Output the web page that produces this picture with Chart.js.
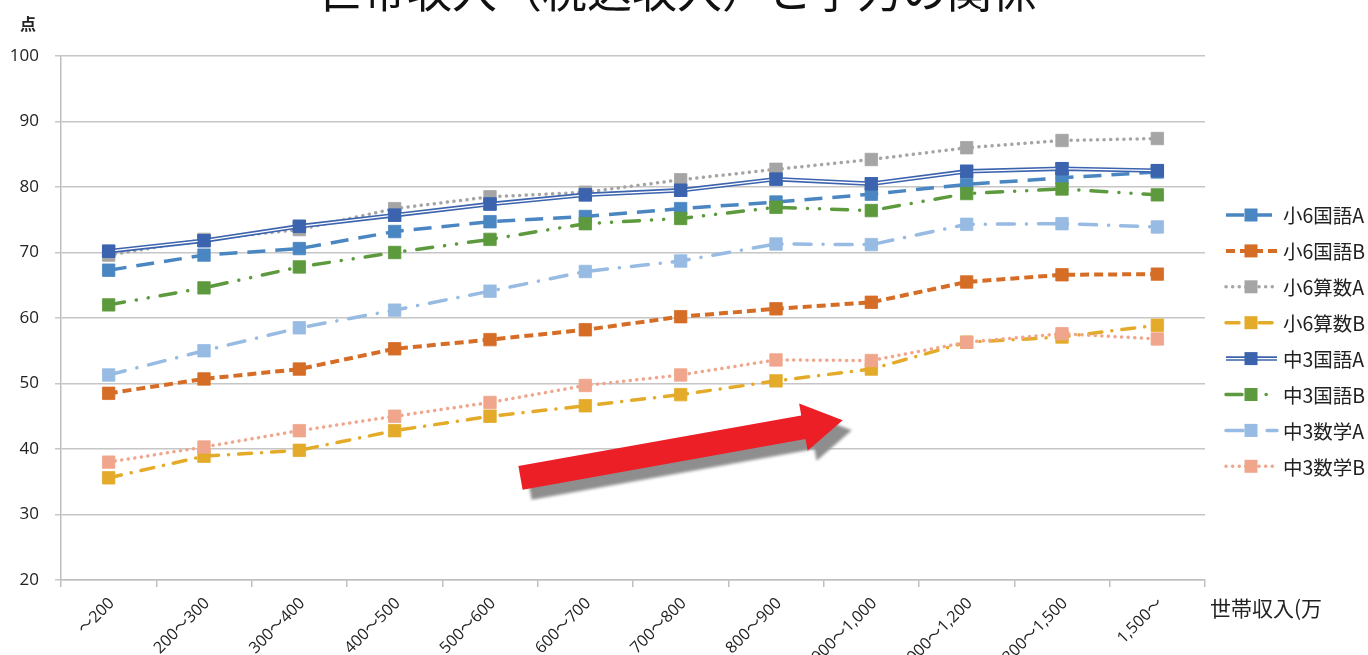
<!DOCTYPE html>
<html lang="ja">
<head>
<meta charset="utf-8">
<script src="https://cdn.jsdelivr.net/npm/chart.js@4"></script>
<style>
  html, body { margin: 0; padding: 0; background: #fff; overflow: hidden; }
  #wrap { position: relative; width: 1368px; height: 655px; overflow: hidden; }
  #title {
    position: absolute; left: 272px; top: -34px; white-space: nowrap;
    font: 45px/45px "Noto Sans CJK JP", sans-serif; color: #111;
  }
  #yunit { position: absolute; left: 20px; top: 11px; font: bold 16px "Noto Sans CJK JP", sans-serif; color: #222; }
  #xunit { position: absolute; left: 1210px; top: 592px; font: 21px "Noto Sans CJK JP", sans-serif; color: #222; white-space: nowrap; }
</style>
</head>
<body>
<div id="wrap">
  <canvas id="chart" width="1368" height="655"></canvas>
  <div id="title">・世帯収入（税込収入）と学力の関係</div>
  <div id="yunit">点</div>
  <div id="xunit">世帯収入(万</div>
</div>
<script>
// income brackets (万円)
const categories = ["～200", "200～300", "300～400", "400～500", "500～600", "600～700",
  "700～800", "800～900", "900～1,000", "1,000～1,200", "1,200～1,500", "1,500～"];

const seriesNames = ["小6国語A", "小6国語B", "小6算数A", "小6算数B", "中3国語A", "中3国語B", "中3数学A", "中3数学B"];

const sho6KokugoA = [67.3, 69.6, 70.6, 73.2, 74.7, 75.5, 76.7, 77.7, 78.9, 80.4, 81.4, 82.3];
const sho6KokugoB = [48.5, 50.7, 52.2, 55.3, 56.7, 58.2, 60.2, 61.4, 62.4, 65.5, 66.6, 66.7];
const sho6SansuA = [69.6, 72.0, 73.5, 76.7, 78.5, 79.2, 81.1, 82.7, 84.2, 86.0, 87.1, 87.4];
const sho6SansuB = [35.6, 38.9, 39.8, 42.8, 45.0, 46.6, 48.3, 50.4, 52.2, 56.3, 57.1, 58.9];
const chu3KokugoA = [70.2, 71.8, 74.0, 75.7, 77.4, 78.8, 79.5, 81.2, 80.5, 82.4, 82.8, 82.5];
const chu3KokugoB = [62.0, 64.6, 67.8, 70.0, 72.0, 74.4, 75.2, 76.9, 76.4, 79.0, 79.7, 78.8];
const chu3SugakuA = [51.3, 55.0, 58.5, 61.2, 64.1, 67.1, 68.7, 71.3, 71.2, 74.3, 74.4, 73.9];
const chu3SugakuB = [38.0, 40.3, 42.8, 45.0, 47.1, 49.7, 51.3, 53.6, 53.5, 56.3, 57.6, 56.8];

const yTicks = [20, 30, 40, 50, 60, 70, 80, 90, 100];

// arrow annotation, in (category index, score) units
const arrowFrom = [4.32, 35.6];
const arrowTo = [7.7, 44.4];

const allValues = [sho6KokugoA, sho6KokugoB, sho6SansuA, sho6SansuB, chu3KokugoA, chu3KokugoB, chu3SugakuA, chu3SugakuB];
const styles = [
  { color: "#4a86c1", dash: [18, 10], width: 3.5, cap: "butt" },
  { color: "#d56d27", dash: [9, 5], width: 4, cap: "butt" },
  { color: "#a5a5a5", dash: [0.1, 6.5], width: 3.5, cap: "round" },
  { color: "#e3ab29", dash: [13, 10, 0.1, 10], width: 3.5, cap: "round" },
  { color: "#3b63ae", dash: [], width: 4.5, cap: "butt", double: true },
  { color: "#5d9a3e", dash: [16, 12, 0.1, 12, 0.1, 12], width: 3.5, cap: "round" },
  { color: "#97bbe2", dash: [17, 12, 0.1, 12], width: 3.5, cap: "round" },
  { color: "#f0a68c", dash: [0.1, 6.5], width: 3.5, cap: "round" },
];

const datasets = allValues.map((vals, i) => ({
  label: seriesNames[i],
  data: vals,
  borderColor: styles[i].color,
  backgroundColor: styles[i].color,
  borderWidth: styles[i].width,
  borderDash: styles[i].dash,
  borderCapStyle: styles[i].cap,
  pointStyle: "rect",
  pointRadius: 8.8,
  pointBorderWidth: 0.8,
  pointBorderColor: styles[i].color,
  pointBackgroundColor: styles[i].color,
  tension: 0,
  order: allValues.length - i,
}));

function drawSquare(ctx, x, y, color) {
  ctx.fillStyle = color;
  ctx.fillRect(x - 6.5, y - 6.5, 13, 13);
}

const doubleLine = {
  id: "doubleLine",
  afterDatasetDraw(chart, args) {
    if (!styles[args.index].double) return;
    const ctx = chart.ctx;
    const pts = args.meta.data;
    ctx.save();
    ctx.strokeStyle = "#fff";
    ctx.lineWidth = 1.3;
    ctx.beginPath();
    pts.forEach((p, j) => (j ? ctx.lineTo(p.x, p.y) : ctx.moveTo(p.x, p.y)));
    ctx.stroke();
    pts.forEach((p) => drawSquare(ctx, p.x, p.y, styles[args.index].color));
    ctx.restore();
  },
};

const arrow = {
  id: "arrow",
  beforeDatasetsDraw(chart) {
    const { x, y } = chart.scales;
    const p0 = [x.getPixelForValue(arrowFrom[0]), y.getPixelForValue(arrowFrom[1])];
    const p1 = [x.getPixelForValue(arrowTo[0]), y.getPixelForValue(arrowTo[1])];
    const len = Math.hypot(p1[0] - p0[0], p1[1] - p0[1]);
    const u = [(p1[0] - p0[0]) / len, (p1[1] - p0[1]) / len];
    const n = [-u[1], u[0]];
    const bw = 12, hw = 24, hl = 40;
    const hb = [p1[0] - u[0] * hl, p1[1] - u[1] * hl];
    const pt = (b, k) => [b[0] + n[0] * k, b[1] + n[1] * k];
    const poly = [pt(p0, bw), pt(hb, bw), pt(hb, hw), p1, pt(hb, -hw), pt(hb, -bw), pt(p0, -bw)];
    const ctx = chart.ctx;
    const fill = (dx, dy, color) => {
      ctx.beginPath();
      poly.forEach((p, j) => (j ? ctx.lineTo(p[0] + dx, p[1] + dy) : ctx.moveTo(p[0] + dx, p[1] + dy)));
      ctx.closePath();
      ctx.fillStyle = color;
      ctx.fill();
    };
    ctx.save();
    ctx.filter = "blur(1.5px)";
    fill(9, 10, "#8e8e8e");
    ctx.filter = "none";
    fill(0, 0, "#ec1f26");
    ctx.restore();
  },
};

const sideLegend = {
  id: "sideLegend",
  afterDraw(chart) {
    const ctx = chart.ctx;
    seriesNames.forEach((name, i) => {
      const s = styles[i];
      const ly = 215 + i * 35.9;
      ctx.save();
      ctx.strokeStyle = s.color;
      ctx.lineWidth = s.width;
      ctx.lineCap = s.cap;
      ctx.setLineDash(s.dash);
      ctx.beginPath();
      ctx.moveTo(1226, ly);
      ctx.lineTo(1277, ly);
      ctx.stroke();
      if (s.double) {
        ctx.setLineDash([]);
        ctx.strokeStyle = "#fff";
        ctx.lineWidth = 1.3;
        ctx.beginPath();
        ctx.moveTo(1226, ly);
        ctx.lineTo(1277, ly);
        ctx.stroke();
      }
      drawSquare(ctx, 1251, ly, s.color);
      ctx.fillStyle = "#222";
      ctx.font = '19.5px "Noto Sans CJK JP", sans-serif';
      ctx.textBaseline = "middle";
      ctx.fillText(name, 1283, ly + 1);
      ctx.restore();
    });
  },
};

new Chart(document.getElementById("chart"), {
  type: "line",
  data: { labels: categories, datasets },
  plugins: [arrow, doubleLine, sideLegend],
  options: {
    responsive: false,
    animation: false,
    devicePixelRatio: 1,
    layout: { padding: { top: 56, right: 163, left: 0, bottom: 0 } },
    plugins: { legend: { display: false }, tooltip: { enabled: false } },
    scales: {
      x: {
        type: "category",
        offset: true,
        afterFit: (s) => { s.height = 75; },
        grid: { offset: true, drawOnChartArea: false, drawTicks: true, tickLength: 7, color: "#bfbfbf", lineWidth: 1.5 },
        border: { color: "#bfbfbf", width: 1.5 },
        ticks: {
          autoSkip: false, minRotation: 45, maxRotation: 45, padding: 7, labelOffset: 3,
          color: "#222", font: { family: '"Open Sans", "Noto Sans CJK JP", sans-serif', size: 16 },
        },
      },
      y: {
        min: 20, max: 100,
        afterFit: (s) => { s.width = 61; },
        afterBuildTicks: (s) => { s.ticks = yTicks.map((v) => ({ value: v })); },
        grid: { color: "#c6c6c6", lineWidth: 1.5, drawTicks: true, tickLength: 6 },
        border: { color: "#bfbfbf", width: 1.5 },
        ticks: {
          padding: 16, color: "#222",
          font: { family: '"Open Sans", sans-serif', size: 17 },
        },
      },
    },
  },
});
</script>
</body>
</html>
